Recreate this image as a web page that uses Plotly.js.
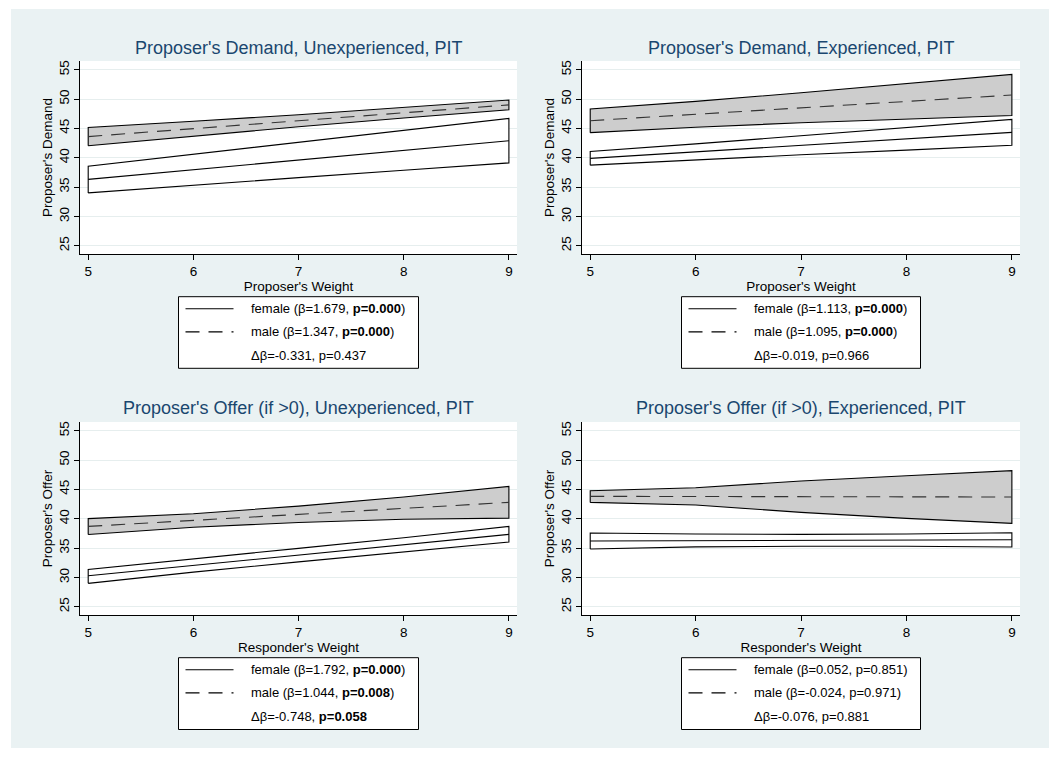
<!DOCTYPE html>
<html><head><meta charset="utf-8">
<script src="https://cdn.plot.ly/plotly-3.0.1.min.js"></script>
<style>
html,body{margin:0;padding:0;background:#ffffff;overflow:hidden;width:1056px;height:758px}
#chart{position:absolute;left:11px;top:9px;width:1038px;height:739px}
</style>
</head><body><div id="chart"></div>
<script>
// ---------------- DATA ----------------
const weights = [5, 6, 7, 8, 9];
const yTicks = [25, 30, 35, 40, 45, 50, 55];

const panelTitles = [
  "Proposer's Demand, Unexperienced, PIT",
  "Proposer's Demand, Experienced, PIT",
  "Proposer's Offer (if >0), Unexperienced, PIT",
  "Proposer's Offer (if >0), Experienced, PIT"
];
const xTitles = ["Proposer's Weight", "Proposer's Weight", "Responder's Weight", "Responder's Weight"];
const yTitles = ["Proposer's Demand", "Proposer's Demand", "Proposer's Offer", "Proposer's Offer"];

// Panel 1: Demand, Unexperienced
const p1FemaleFit = [36.3, 37.95, 39.6, 41.25, 42.9];
const p1FemaleLo  = [34.0, 35.35, 36.6, 37.85, 39.12];
const p1FemaleHi  = [38.55, 40.55, 42.6, 44.65, 46.7];
const p1MaleFit   = [43.6, 44.95, 46.3, 47.65, 49.0];
const p1MaleLo    = [42.05, 43.7, 45.27, 46.77, 48.17];
const p1MaleHi    = [45.15, 46.2, 47.33, 48.53, 49.83];

// Panel 2: Demand, Experienced
const p2FemaleFit = [39.89, 41.0, 42.1, 43.2, 44.32];
const p2FemaleLo  = [38.73, 39.65, 40.5, 41.3, 42.12];
const p2FemaleHi  = [41.06, 42.35, 43.7, 45.1, 46.53];
const p2MaleFit   = [46.31, 47.4, 48.5, 49.6, 50.68];
const p2MaleLo    = [44.27, 45.2, 45.95, 46.6, 47.2];
const p2MaleHi    = [48.3, 49.6, 51.07, 52.6, 54.2];

// Panel 3: Offer, Unexperienced
const p3FemaleFit = [30.28, 32.05, 33.8, 35.55, 37.33];
const p3FemaleLo  = [28.98, 30.9, 32.65, 34.35, 36.02];
const p3FemaleHi  = [31.36, 33.2, 34.95, 36.75, 38.69];
const p3MaleFit   = [38.69, 39.7, 40.75, 41.8, 42.78];
const p3MaleLo    = [37.3, 38.55, 39.35, 39.9, 40.1];
const p3MaleHi    = [40.02, 40.85, 42.15, 43.7, 45.5];

// Panel 4: Offer, Experienced
const p4FemaleFit = [36.19, 36.25, 36.3, 36.36, 36.42];
const p4FemaleLo  = [34.83, 35.2, 35.3, 35.3, 35.17];
const p4FemaleHi  = [37.56, 37.4, 37.33, 37.4, 37.61];
const p4MaleFit   = [43.81, 43.78, 43.76, 43.73, 43.7];
const p4MaleLo    = [42.78, 42.33, 41.08, 40.06, 39.2];
const p4MaleHi    = [44.77, 45.28, 46.42, 47.33, 48.18];

const legendFemale = [
  "female (β=1.679, <b>p=0.000</b>)",
  "female (β=1.113, <b>p=0.000</b>)",
  "female (β=1.792, <b>p=0.000</b>)",
  "female (β=0.052, p=0.851)"
];
const legendMale = [
  "male (β=1.347, <b>p=0.000</b>)",
  "male (β=1.095, <b>p=0.000</b>)",
  "male (β=1.044, <b>p=0.008</b>)",
  "male (β=-0.024, p=0.971)"
];
const legendDiff = [
  "Δβ=-0.331, p=0.437",
  "Δβ=-0.019, p=0.966",
  "Δβ=-0.748, <b>p=0.058</b>",
  "Δβ=-0.076, p=0.881"
];

const panelData = [
  {fFit: p1FemaleFit, fLo: p1FemaleLo, fHi: p1FemaleHi, mFit: p1MaleFit, mLo: p1MaleLo, mHi: p1MaleHi},
  {fFit: p2FemaleFit, fLo: p2FemaleLo, fHi: p2FemaleHi, mFit: p2MaleFit, mLo: p2MaleLo, mHi: p2MaleHi},
  {fFit: p3FemaleFit, fLo: p3FemaleLo, fHi: p3FemaleHi, mFit: p3MaleFit, mLo: p3MaleLo, mHi: p3MaleHi},
  {fFit: p4FemaleFit, fLo: p4FemaleLo, fHi: p4FemaleHi, mFit: p4MaleFit, mLo: p4MaleLo, mHi: p4MaleHi}
];

// ---------------- LAYOUT GEOMETRY ----------------
const OX = 11, OY = 9, W = 1038, H = 739;
const px = x => (x - OX) / W;
const py = y => 1 - (y - OY) / H;

const colX = [[80, 517], [582, 1020]];
const rowY = [[61, 254], [422, 615]];
const titleY = [47.5, 408.5];
const legX = [[178.5, 418.5], [681.5, 920.5]];
const legY = [[296.7, 368.3], [657.7, 729.5]];

const FONT = "Liberation Sans, Arial, Helvetica, sans-serif";
const TITLE_COLOR = "#1a476f";
const DASH = "14px,9px";

const traces = [];
const layout = {
  width: W, height: H,
  margin: {l: 0, r: 0, t: 0, b: 0, pad: 0},
  paper_bgcolor: "#eaf2f3",
  plot_bgcolor: "#ffffff",
  showlegend: false,
  font: {family: FONT, color: "#000000", size: 13},
  annotations: [],
  shapes: []
};

function band(lo, hi) {
  const xs = weights.concat(weights.slice().reverse(), [weights[0]]);
  const ys = lo.concat(hi.slice().reverse(), [lo[0]]);
  return {xs, ys};
}

for (let i = 0; i < 4; i++) {
  const c = i % 2, r = Math.floor(i / 2);
  const n = i === 0 ? "" : String(i + 1);
  const xa = "x" + n, ya = "y" + n;
  const d = panelData[i];

  const fb = band(d.fLo, d.fHi);
  traces.push({x: fb.xs, y: fb.ys, xaxis: xa, yaxis: ya, type: "scatter", mode: "lines",
    fill: "toself", fillcolor: "#ffffff", line: {color: "#000000", width: 1.1}, hoverinfo: "skip"});
  traces.push({x: weights, y: d.fFit, xaxis: xa, yaxis: ya, type: "scatter", mode: "lines",
    line: {color: "#000000", width: 1.1}, hoverinfo: "skip"});
  const mb = band(d.mLo, d.mHi);
  traces.push({x: mb.xs, y: mb.ys, xaxis: xa, yaxis: ya, type: "scatter", mode: "lines",
    fill: "toself", fillcolor: "#cdcdcd", line: {color: "#000000", width: 1.1}, hoverinfo: "skip"});
  traces.push({x: weights, y: d.mFit, xaxis: xa, yaxis: ya, type: "scatter", mode: "lines",
    line: {color: "#333333", width: 1.1, dash: DASH}, hoverinfo: "skip"});

  layout["xaxis" + n] = {
    domain: [px(colX[c][0]), px(colX[c][1])],
    anchor: ya,
    range: [4.922, 9.077],
    tickvals: weights,
    ticks: "outside", ticklen: 5, tickwidth: 1, tickcolor: "#000000",
    showline: true, linecolor: "#000000", linewidth: 1,
    showgrid: false, zeroline: false,
    tickfont: {size: 13.5, family: FONT, color: "#000000"},
    title: {text: xTitles[i], font: {size: 13.5, family: FONT, color: "#000000"}, standoff: 0},
    fixedrange: true
  };
  layout["yaxis" + n] = {
    domain: [py(rowY[r][1]), py(rowY[r][0])],
    anchor: xa,
    range: [23.59, 56.48],
    tickvals: yTicks,
    tickangle: -90,
    ticks: "outside", ticklen: 5, tickwidth: 1, tickcolor: "#000000",
    showline: true, linecolor: "#000000", linewidth: 1,
    showgrid: true, gridcolor: "#e6eeee", gridwidth: 1,
    zeroline: false,
    tickfont: {size: 13.5, family: FONT, color: "#000000"},
    title: {text: yTitles[i], font: {size: 13.5, family: FONT, color: "#000000"}, standoff: 0},
    fixedrange: true
  };

  // subplot title
  layout.annotations.push({
    text: panelTitles[i], xref: "paper", yref: "paper",
    x: px((colX[c][0] + colX[c][1]) / 2), y: py(titleY[r]),
    xanchor: "center", yanchor: "middle", showarrow: false,
    font: {size: 18, family: FONT, color: TITLE_COLOR}
  });

  // legend box
  const lx0 = legX[c][0], lx1 = legX[c][1], ly0 = legY[r][0], ly1 = legY[r][1];
  layout.shapes.push({type: "rect", xref: "paper", yref: "paper",
    x0: px(lx0), x1: px(lx1), y0: py(ly1), y1: py(ly0),
    fillcolor: "#ffffff", line: {color: "#000000", width: 1}});
  const rows = [ly0 + 12, ly0 + 35.2, ly0 + 58.3];
  layout.shapes.push({type: "line", xref: "paper", yref: "paper",
    x0: px(lx0 + 7), x1: px(lx0 + 55), y0: py(rows[0]), y1: py(rows[0]),
    line: {color: "#000000", width: 1.1}});
  layout.shapes.push({type: "line", xref: "paper", yref: "paper",
    x0: px(lx0 + 7), x1: px(lx0 + 55), y0: py(rows[1]), y1: py(rows[1]),
    line: {color: "#000000", width: 1.1, dash: DASH}});
  const texts = [legendFemale[i], legendMale[i], legendDiff[i]];
  for (let k = 0; k < 3; k++) {
    layout.annotations.push({
      text: texts[k], xref: "paper", yref: "paper",
      x: px(lx0 + 70.5), y: py(rows[k]), xanchor: "left", yanchor: "middle",
      showarrow: false, font: {size: 13, family: FONT, color: "#000000"}
    });
  }
}

Plotly.newPlot("chart", traces, layout, {staticPlot: true, displayModeBar: false});
</script>
</body></html>
